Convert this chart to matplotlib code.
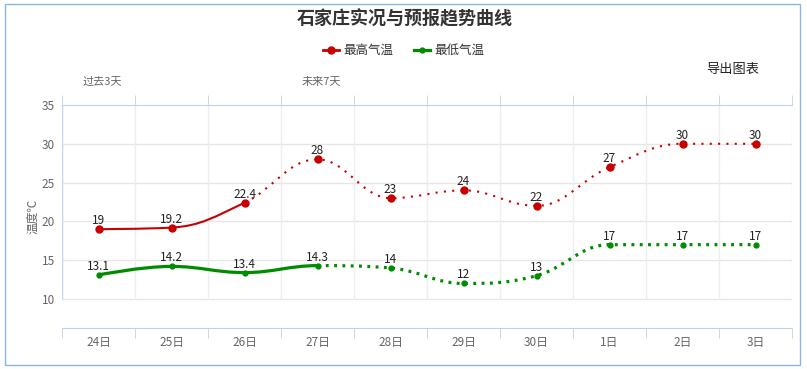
import numpy as np
import matplotlib
matplotlib.use('Agg')
import matplotlib.pyplot as plt
from matplotlib.path import Path
from matplotlib.patches import PathPatch, Rectangle

plt.rcParams['font.family'] = ['Noto Sans CJK SC', 'DejaVu Sans']

# data
days = ['24日', '25日', '26日', '27日', '28日', '29日', '30日', '1日', '2日', '3日']
high = [19, 19.2, 22.4, 28, 23, 24, 22, 27, 30, 30]
low = [13.1, 14.2, 13.4, 14.3, 14, 12, 13, 17, 17, 17]
high_obs = 3   # observed points (solid), rest forecast
low_obs = 4
yticks = [10, 15, 20, 25, 30, 35]

red = '#c80000'
green = '#008c00'
W, H = 807, 369


def spline_ctrl(xs, ys):
    # highcharts-like spline control points
    n = len(xs)
    lc = [(xs[i], ys[i]) for i in range(n)]
    rc = [(xs[i], ys[i]) for i in range(n)]
    for i in range(1, n - 1):
        x, y = xs[i], ys[i]
        lx, ly = xs[i - 1], ys[i - 1]
        nx, ny = xs[i + 1], ys[i + 1]
        lcx = (1.5 * x + lx) / 2.5
        lcy = (1.5 * y + ly) / 2.5
        rcx = (1.5 * x + nx) / 2.5
        rcy = (1.5 * y + ny) / 2.5
        corr = (rcy - lcy) * (rcx - x) / (rcx - lcx) + y - rcy
        lcy += corr
        rcy += corr
        if lcy > ly and lcy > y:
            lcy = max(ly, y)
            rcy = 2 * y - lcy
        elif lcy < ly and lcy < y:
            lcy = min(ly, y)
            rcy = 2 * y - lcy
        if rcy > ny and rcy > y:
            rcy = max(ny, y)
            lcy = 2 * y - rcy
        elif rcy < ny and rcy < y:
            rcy = min(ny, y)
            lcy = 2 * y - rcy
        lc[i] = (lcx, lcy)
        rc[i] = (rcx, rcy)
    return lc, rc


def spline_path(xs, ys, i0, i1):
    lc, rc = spline_ctrl(xs, ys)
    verts = [(xs[i0], ys[i0])]
    codes = [Path.MOVETO]
    for i in range(i0 + 1, i1 + 1):
        verts += [rc[i - 1], lc[i], (xs[i], ys[i])]
        codes += [Path.CURVE4] * 3
    return Path(verts, codes)


fig = plt.figure(figsize=(W / 100, H / 100), dpi=100)
fig.patches.append(Rectangle((5 / W, 4 / H), 795 / W, 361 / H, transform=fig.transFigure,
                             fill=False, edgecolor='#8ab4e6', lw=1))

ax = fig.add_axes([62 / W, 41 / H, 730 / W, 223 / H])
x = np.arange(len(days))
ax.set_xlim(-0.5, len(days) - 0.5)
ax.set_ylim(6.26, 35)

# grid
for yv in yticks[:-1]:
    ax.axhline(yv, color='#e6e6e6', lw=1, zorder=0)
ax.vlines(np.arange(-0.5, len(days)), 10, 35, color='#eeeeee', lw=1, zorder=0)
ax.vlines([-0.5], 10, 35, color='#c8d6ea', lw=1, zorder=0)

for s in ['left', 'right']:
    ax.spines[s].set_visible(False)
for s in ['top', 'bottom']:
    ax.spines[s].set_color('#c0d0e8')

ax.set_xticks(x)
ax.set_xticklabels(days)
ax.set_xticks(np.arange(-0.5, len(days)), minor=True)
ax.tick_params(axis='x', which='major', length=0, pad=6, labelsize=8.5, labelcolor='#666666')
ax.tick_params(axis='x', which='minor', length=7, color='#c0d0e8', top=True, direction='out')
ax.set_yticks(yticks)
ax.tick_params(axis='y', length=0, pad=5, labelsize=8.5, labelcolor='#666666')
ax.set_ylabel('温度℃', fontsize=8.5, color='#666666', labelpad=2)

# lines
for vals, nobs, col, lw, dash, ms in [(high, high_obs, red, 1.5, (1, 3), 5),
                                      (low, low_obs, green, 2.3, (0.9, 1.7), 3.5)]:
    p1 = spline_path(x, vals, 0, nobs - 1)
    p2 = spline_path(x, vals, nobs - 1, len(vals) - 1)
    ax.add_patch(PathPatch(p1, fill=False, edgecolor=col, lw=lw, capstyle='butt'))
    ax.add_patch(PathPatch(p2, fill=False, edgecolor=col, lw=lw, linestyle=(0, dash)))
    ax.plot(x, vals, 'o', color=col, ms=ms, zorder=3)
    for xi, v in zip(x, vals):
        ax.annotate(f'{v:g}', (xi, v), xytext=(0, 1.5), textcoords='offset points',
                    ha='center', va='bottom', fontsize=8.5, color='#222222')

# texts
fig.text(405 / W, 1 - 19 / H, '石家庄实况与预报趋势曲线', ha='center', va='center',
         fontsize=13, fontweight='bold', color='#333333')
fig.text(102 / W, 1 - 82 / H, '过去3天', ha='center', va='center', fontsize=8, color='#666666')
fig.text(321 / W, 1 - 82 / H, '未来7天', ha='center', va='center', fontsize=8, color='#666666')
fig.text(733 / W, 1 - 69 / H, '导出图表', ha='center', va='center', fontsize=9.5, color='#222222')

# legend
for x0, col, ms, lw, label in [(323, red, 5, 2, '最高气温'), (414, green, 3.5, 2.3, '最低气温')]:
    ly = 1 - 50 / H
    fig.add_artist(plt.Line2D([x0 / W, (x0 + 16) / W], [ly, ly], color=col, lw=lw,
                              transform=fig.transFigure))
    fig.add_artist(plt.Line2D([(x0 + 8) / W], [ly], color=col, marker='o', ms=ms,
                              transform=fig.transFigure))
    fig.text((x0 + 20) / W, ly, label, ha='left', va='center', fontsize=9, color='#333333')

fig.savefig('out.png', dpi=100)
